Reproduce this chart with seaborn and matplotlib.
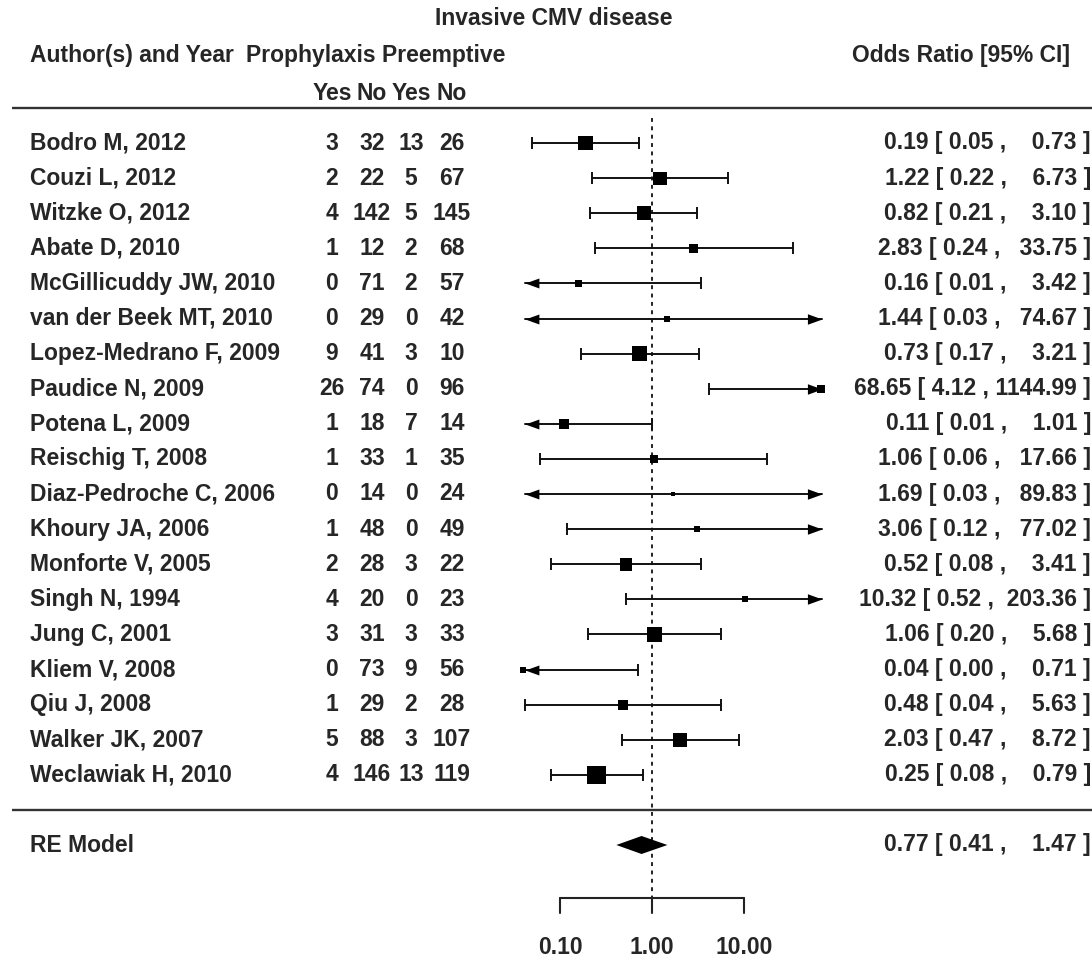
import numpy as np
import pandas as pd
import matplotlib
matplotlib.use("Agg")
import matplotlib.pyplot as plt
from matplotlib.path import Path
import seaborn as sns

# ─── Data ────────────────────────────────────────────────────

studies = [
    "Bodro M, 2012", "Couzi L, 2012", "Witzke O, 2012", "Abate D, 2010",
    "McGillicuddy JW, 2010", "van der Beek MT, 2010", "Lopez-Medrano F, 2009",
    "Paudice N, 2009", "Potena L, 2009", "Reischig T, 2008",
    "Diaz-Pedroche C, 2006", "Khoury JA, 2006", "Monforte V, 2005",
    "Singh N, 1994", "Jung C, 2001", "Kliem V, 2008", "Qiu J, 2008",
    "Walker JK, 2007", "Weclawiak H, 2010",
]
proph_yes = [3, 2, 4, 1, 0, 0, 9, 26, 1, 1, 0, 1, 2, 4, 3, 0, 1, 5, 4]
proph_no = [32, 22, 142, 12, 71, 29, 41, 74, 18, 33, 14, 48, 28, 20, 31, 73, 29, 88, 146]
pre_yes = [13, 5, 5, 2, 2, 0, 3, 0, 7, 1, 0, 0, 3, 0, 3, 9, 2, 3, 13]
pre_no = [26, 67, 145, 68, 57, 42, 10, 96, 14, 35, 24, 49, 22, 23, 33, 56, 28, 107, 119]

or_est = [0.19, 1.22, 0.82, 2.83, 0.16, 1.44, 0.73, 68.65, 0.11, 1.06,
          1.69, 3.06, 0.52, 10.32, 1.06, 0.04, 0.48, 2.03, 0.25]
ci_lo = [0.05, 0.22, 0.21, 0.24, 0.01, 0.03, 0.17, 4.12, 0.01, 0.06,
         0.03, 0.12, 0.08, 0.52, 0.20, 0.003, 0.042, 0.47, 0.08]
ci_hi = [0.73, 6.73, 3.10, 33.75, 3.42, 74.67, 3.21, 1144.99, 1.01, 17.66,
         89.83, 77.02, 3.41, 203.36, 5.68, 0.71, 5.63, 8.72, 0.79]
# relative study weight (drawn as square side)
weight = [12, 11, 12, 7.5, 6, 5, 12, 7, 8.5, 6.5, 4, 5, 10.5, 5, 12, 5, 8.5, 12, 15.5]

re_est, re_lo, re_hi = 0.77, 0.41, 1.47
axis_ticks = [0.1, 1.0, 10.0]
arrow_lim = (0.0417, 70.4)

# ─── Layout helpers (pixel grid of the 1092x961 canvas) ───────

W, H = 1092, 961
X_ONE, DECADE = 652, 92          # x pixel of OR=1, pixels per decade
Y_ROW0, ROW_H = 143, 35.1         # y pixel of first study, row height


def fx(px):
    return px / W


sns.set_theme(style="white")
plt.rcParams["font.family"] = ["Liberation Sans", "DejaVu Sans"]
plt.rcParams["font.weight"] = "bold"
FS = 16.5

fig = plt.figure(figsize=(W / 100, H / 100), dpi=100)
ax = fig.add_axes([0, 0, 1, 1])
ax.set_xscale("log")
ax.set_xlim(10 ** (-X_ONE / DECADE), 10 ** ((W - X_ONE) / DECADE))
ax.set_ylim((H - Y_ROW0) / ROW_H, -Y_ROW0 / ROW_H)
ax.axis("off")
ytr = ax.get_yaxis_transform()   # x in axes fraction, y in rows

k = len(studies)
rows = np.arange(k)
re_row = k + 1
axis_row = k + 2.5

df = pd.DataFrame({
    "study": studies, "row": rows, "est": or_est,
    "lo": ci_lo, "hi": ci_hi,
    "area": (np.array(weight) * 0.72 * 1.2) ** 2,
})

# ─── Reference line and rules ─────────────────────────────────

ax.plot([1, 1], [-0.7, axis_row], color="#222222", lw=1.4,
        linestyle=(0, (2, 2.3)), zorder=1)
for r in (-1, k):
    ax.plot([fx(12), 1], [r, r], transform=ytr, color="#333333", lw=1.7,
            solid_capstyle="butt")

# ─── CI lines, end ticks, arrows ──────────────────────────────

left_arrow = Path([(0, 0), (1, 0.36), (1, -0.36), (0, 0)])
right_arrow = Path([(0, 0), (-1, 0.36), (-1, -0.36), (0, 0)])

for _, s in df.iterrows():
    lo = max(s.lo, arrow_lim[0])
    hi = min(s.hi, arrow_lim[1])
    ax.plot([lo, hi], [s.row, s.row], color="#111111", lw=1.4, zorder=2)
    if s.lo < arrow_lim[0]:
        ax.plot(lo, s.row, marker=left_arrow, ms=20, color="black", mew=0, zorder=3)
    else:
        ax.plot(lo, s.row, marker="|", ms=9, mew=1.4, color="#111111", zorder=2)
    if s.hi > arrow_lim[1]:
        ax.plot(hi, s.row, marker=right_arrow, ms=21, color="black", mew=0, zorder=3)
    else:
        ax.plot(hi, s.row, marker="|", ms=9, mew=1.4, color="#111111", zorder=2)

amin, amax = df["area"].min(), df["area"].max()
sns.scatterplot(data=df, x="est", y="row", size="area", sizes=(amin, amax),
                size_norm=(amin, amax), marker="s", color="black",
                linewidth=0, legend=False, ax=ax, zorder=4)

# summary diamond
dh = 9 / ROW_H
ax.fill([re_lo, re_est, re_hi, re_est], [re_row, re_row - dh, re_row, re_row + dh],
        color="black", lw=0, zorder=4)

# ─── Bottom axis ──────────────────────────────────────────────

ax.plot([axis_ticks[0], axis_ticks[-1]], [axis_row, axis_row], color="#222222", lw=1.5)
for t in axis_ticks:
    ax.plot([t, t], [axis_row, axis_row + 15 / ROW_H], color="#222222", lw=1.5)
    ax.text(t, axis_row + 50 / ROW_H, f"{t:.2f}", ha="center", va="center", fontsize=FS)

# ─── Text columns ─────────────────────────────────────────────

ax.text(fx(435), -3.56, "Invasive CMV disease", transform=ytr, ha="left", va="center", fontsize=FS)
ax.text(fx(30), -2.48, "Author(s) and Year", transform=ytr, ha="left", va="center", fontsize=FS)
ax.text(fx(246), -2.48, "Prophylaxis Preemptive", transform=ytr, ha="left", va="center", fontsize=FS)
ax.text(fx(1070), -2.48, "Odds Ratio [95% CI]", transform=ytr, ha="right", va="center", fontsize=FS)

col_x = [332, 372, 411, 452]
for cx, lab in zip(col_x, ["Yes", "No", "Yes", "No"]):
    ax.text(fx(cx), -1.42, lab, transform=ytr, ha="center", va="center", fontsize=FS)

for i in range(k):
    ax.text(fx(30), i, studies[i], transform=ytr, ha="left", va="center", fontsize=FS)
    for cx, col in zip(col_x, [proph_yes, proph_no, pre_yes, pre_no]):
        ax.text(fx(cx), i, str(col[i]), transform=ytr, ha="center", va="center", fontsize=FS)
    ax.text(fx(1091), i, f"{or_est[i]:.2f} [ {ci_lo[i]:.2f} , {ci_hi[i]:>7.2f} ]",
            transform=ytr, ha="right", va="center", fontsize=FS)

ax.text(fx(30), re_row, "RE Model", transform=ytr, ha="left", va="center", fontsize=FS)
ax.text(fx(1091), re_row, f"{re_est:.2f} [ {re_lo:.2f} , {re_hi:>7.2f} ]",
        transform=ytr, ha="right", va="center", fontsize=FS)

fig.savefig("out.png", dpi=100, facecolor="white")
